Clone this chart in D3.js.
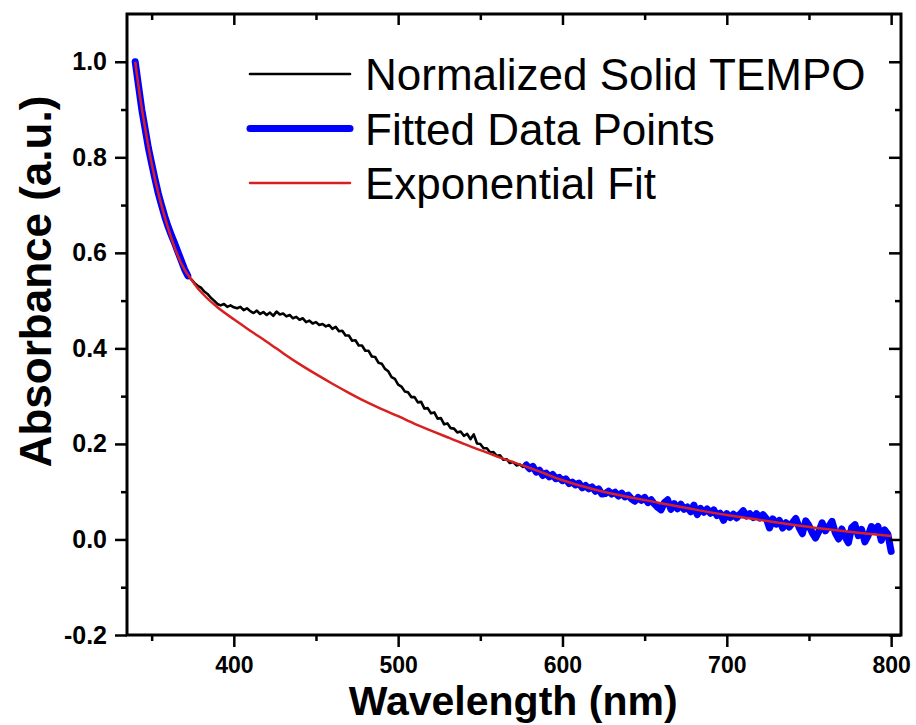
<!DOCTYPE html>
<html>
<head>
<meta charset="utf-8">
<script src="https://cdn.jsdelivr.net/npm/d3@7"></script>
<style>
  body { margin: 0; background: #fff; }
  text { font-family: "Liberation Sans", Arial, sans-serif; }
</style>
</head>
<body>
<script>
// spectrum sampled every 2 nm, split in three parts
const wlStart = 340, wlStep = 2;
// 340 - 372 nm (fitted)
const uvEdge = [1.000, 0.950, 0.900, 0.860, 0.820, 0.787, 0.755, 0.725, 0.700, 0.676,
  0.655, 0.637, 0.620, 0.602, 0.584, 0.566, 0.552];
// 374 - 576 nm (not fitted, TEMPO shoulder)
const shoulder = [0.545, 0.537, 0.531, 0.527, 0.519, 0.514, 0.506, 0.500, 0.493, 0.490,
  0.493, 0.487, 0.490, 0.486, 0.484, 0.487, 0.480, 0.484, 0.478, 0.474,
  0.479, 0.472, 0.476, 0.470, 0.475, 0.468, 0.477, 0.471, 0.473, 0.467,
  0.470, 0.463, 0.466, 0.460, 0.463, 0.455, 0.458, 0.452, 0.455, 0.449,
  0.451, 0.446, 0.449, 0.441, 0.445, 0.436, 0.437, 0.427, 0.427, 0.416,
  0.417, 0.406, 0.406, 0.395, 0.395, 0.383, 0.382, 0.370, 0.368, 0.357,
  0.352, 0.340, 0.336, 0.324, 0.320, 0.310, 0.308, 0.298, 0.298, 0.287,
  0.288, 0.274, 0.275, 0.264, 0.266, 0.253, 0.254, 0.241, 0.243, 0.233,
  0.232, 0.224, 0.226, 0.217, 0.221, 0.210, 0.220, 0.201, 0.200, 0.191,
  0.191, 0.182, 0.183, 0.175, 0.176, 0.167, 0.168, 0.160, 0.162, 0.155,
  0.157, 0.152];
// 578 - 800 nm (fitted)
const tail = [0.156, 0.148, 0.153, 0.141, 0.145, 0.134, 0.139, 0.131, 0.136, 0.127,
  0.130, 0.123, 0.127, 0.117, 0.120, 0.114, 0.118, 0.108, 0.113, 0.106,
  0.110, 0.101, 0.106, 0.095, 0.096, 0.101, 0.095, 0.099, 0.091, 0.097,
  0.089, 0.093, 0.085, 0.080, 0.088, 0.082, 0.088, 0.077, 0.083, 0.074,
  0.067, 0.062, 0.077, 0.083, 0.063, 0.075, 0.064, 0.074, 0.063, 0.068,
  0.058, 0.072, 0.052, 0.065, 0.057, 0.064, 0.055, 0.062, 0.050, 0.055,
  0.040, 0.054, 0.046, 0.053, 0.045, 0.053, 0.060, 0.049, 0.054, 0.046,
  0.054, 0.045, 0.052, 0.044, 0.024, 0.043, 0.032, 0.040, 0.024, 0.035,
  0.026, 0.035, 0.044, 0.025, 0.012, 0.039, 0.029, 0.014, 0.003, 0.017,
  0.035, 0.018, 0.027, 0.038, 0.014, 0.001, 0.022, 0.005, -0.007, 0.025,
  0.031, 0.008, 0.021, -0.005, 0.008, 0.027, 0.020, 0.027, -0.002, 0.020,
  0.011, -0.025];

// exponential fit curve
const fitWavelengths = [340, 343, 346, 350, 355, 360, 365, 370, 375, 380, 390, 400, 410, 420,
  430, 440, 450, 460, 470, 480, 490, 500, 510, 520, 530, 540, 550, 560, 570, 580, 590, 600,
  620, 640, 660, 680, 700, 720, 740, 760, 780, 800];
const fitValues = [1.000, 0.925, 0.862, 0.787, 0.712, 0.652, 0.602, 0.565, 0.540, 0.518,
  0.486, 0.461, 0.437, 0.414, 0.390, 0.367, 0.346, 0.326, 0.307, 0.289, 0.273, 0.258,
  0.242, 0.228, 0.214, 0.200, 0.187, 0.174, 0.162, 0.150, 0.137, 0.124, 0.104, 0.089,
  0.076, 0.063, 0.051, 0.041, 0.031, 0.022, 0.014, 0.007];

const xMajor = [400, 500, 600, 700, 800];
const xMinor = [350, 450, 550, 650, 750];
const yMajor = [-0.2, 0.0, 0.2, 0.4, 0.6, 0.8, 1.0];
const yMinor = [-0.1, 0.1, 0.3, 0.5, 0.7, 0.9];

const legendLabels = ["Normalized Solid TEMPO", "Fitted Data Points", "Exponential Fit"];

// set up
const W = 916, H = 725;
const margin = {top: 14, right: 15, bottom: 90, left: 127};
const width = W - margin.left - margin.right,
      height = H - margin.top - margin.bottom;

const svg = d3.select("body").append("svg")
    .attr("width", W)
    .attr("height", H);
const g = svg.append("g")
    .attr("transform", `translate(${margin.left},${margin.top})`);

const x = d3.scaleLinear().domain([335, 806]).range([0, width]);
const y = d3.scaleLinear().domain([-0.2, 1.1]).range([height, 0]);

// turn an array of values into points
const toPoints = (arr, startWl) => arr.map((v, i) => ({wl: startWl + i * wlStep, a: v}));
const edgePts = toPoints(uvEdge, wlStart);
const shoulderPts = toPoints(shoulder, wlStart + uvEdge.length * wlStep);
const tailPts = toPoints(tail, wlStart + (uvEdge.length + shoulder.length) * wlStep);
const allPts = edgePts.concat(shoulderPts, tailPts);
const fitPts = fitWavelengths.map((w, i) => ({wl: w, a: fitValues[i]}));

const line = d3.line().x(d => x(d.wl)).y(d => y(d.a));

// black - full spectrum
g.append("path").datum(allPts)
    .attr("fill", "none").attr("stroke", "#000").attr("stroke-width", 2.6)
    .attr("stroke-linejoin", "round")
    .attr("d", line);

// blue - the fitted parts
[edgePts, tailPts].forEach(seg => {
  g.append("path").datum(seg)
      .attr("fill", "none").attr("stroke", "#0000ff").attr("stroke-width", 7)
      .attr("stroke-linejoin", "round").attr("stroke-linecap", "round")
      .attr("d", line);
});

// red - fit
g.append("path").datum(fitPts)
    .attr("fill", "none").attr("stroke", "#d92020").attr("stroke-width", 2.5)
    .attr("d", line.curve(d3.curveNatural));

// axes
const styleAxis = (sel, fs) => {
  sel.select(".domain").remove();
  sel.selectAll("line").attr("stroke", "#000").attr("stroke-width", 2.5);
  sel.selectAll("text").attr("fill", "#000")
      .style("font-size", (fs || 24) + "px").style("font-weight", "bold");
};

g.append("g").attr("transform", `translate(0,${height})`)
    .call(d3.axisBottom(x).tickValues(xMajor).tickSize(12).tickPadding(10)
        .tickFormat(d3.format("d")))
    .call(styleAxis, 23);
g.append("g").attr("transform", `translate(0,${height})`)
    .call(d3.axisBottom(x).tickValues(xMinor).tickSize(6).tickFormat(""))
    .call(styleAxis);
g.append("g")
    .call(d3.axisTop(x).tickValues(xMajor).tickSize(-11).tickFormat(""))
    .call(styleAxis);
g.append("g")
    .call(d3.axisTop(x).tickValues(xMinor).tickSize(-6).tickFormat(""))
    .call(styleAxis);

g.append("g")
    .call(d3.axisLeft(y).tickValues(yMajor).tickSize(12).tickPadding(8)
        .tickFormat(d => d.toFixed(1)))
    .call(styleAxis, 25);
g.append("g")
    .call(d3.axisLeft(y).tickValues(yMinor).tickSize(6).tickFormat(""))
    .call(styleAxis);
g.append("g").attr("transform", `translate(${width},0)`)
    .call(d3.axisRight(y).tickValues(yMajor).tickSize(-12).tickFormat(""))
    .call(styleAxis);
g.append("g").attr("transform", `translate(${width},0)`)
    .call(d3.axisRight(y).tickValues(yMinor).tickSize(-6).tickFormat(""))
    .call(styleAxis);

// frame
g.append("rect")
    .attr("width", width).attr("height", height)
    .attr("fill", "none").attr("stroke", "#000").attr("stroke-width", 3);

// axis titles
svg.append("text")
    .attr("x", margin.left + x(570)).attr("y", 715)
    .attr("text-anchor", "middle")
    .style("font-size", "41px").style("font-weight", "bold")
    .text("Wavelength (nm)");
svg.append("text")
    .attr("transform", `translate(51,${margin.top + y(0.54)}) rotate(-90)`)
    .attr("text-anchor", "middle")
    .style("font-size", "44px").style("font-weight", "bold")
    .text("Absorbance (a.u.)");

// legend
const legend = svg.append("g").attr("transform", "translate(250,74)");
const legendStyle = [
  {stroke: "#000", w: 2.6},
  {stroke: "#0000ff", w: 7},
  {stroke: "#d92020", w: 2.5}
];
legendLabels.forEach((lab, i) => {
  const row = legend.append("g").attr("transform", `translate(0,${i * 54.5})`);
  row.append("line")
      .attr("x1", 0).attr("x2", 100)
      .attr("stroke", legendStyle[i].stroke).attr("stroke-width", legendStyle[i].w)
      .attr("stroke-linecap", "round");
  row.append("text")
      .attr("x", 115).attr("y", 16)
      .style("font-size", "44px")
      .text(lab);
});
</script>
</body>
</html>
